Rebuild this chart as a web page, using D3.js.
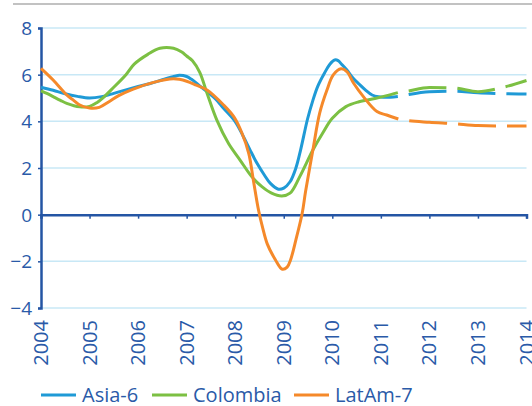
<!DOCTYPE html>
<html>
<head>
<meta charset="utf-8">
<script src="https://cdn.jsdelivr.net/npm/d3@7"></script>
<style>
  html, body { margin: 0; padding: 0; background: #fff; }
  svg { display: block; }
  text { font-family: "Open Sans", "Noto Sans", sans-serif; fill: #2a5aa8; }
</style>
</head>
<body>
<svg id="chart" width="532" height="406"></svg>
<script>
// ---- data ----
const years = [2004, 2005, 2006, 2007, 2008, 2009, 2010, 2011, 2012, 2013, 2014];
const yTicks = [-4, -2, 0, 2, 4, 6, 8];
const seriesNames = ["Asia-6", "Colombia", "LatAm-7"];

// actual (solid) values: [decimal year, value]
const asia6 = [
  [2004.0,5.46],[2004.25,5.33],[2004.5,5.18],[2004.75,5.07],[2005.0,5.0],[2005.25,5.06],
  [2005.5,5.2],[2005.75,5.35],[2006.0,5.49],[2006.25,5.62],[2006.5,5.78],[2006.75,5.93],
  [2006.85,5.97],[2007.0,5.92],[2007.1,5.8],[2007.25,5.55],[2007.42,5.27],[2007.6,4.95],
  [2007.76,4.56],[2008.0,3.99],[2008.17,3.34],[2008.3,2.8],[2008.45,2.2],[2008.6,1.7],
  [2008.72,1.35],[2008.89,1.09],[2009.0,1.14],[2009.13,1.41],[2009.25,2.0],[2009.35,2.8],
  [2009.49,4.1],[2009.6,4.9],[2009.7,5.5],[2009.84,6.07],[2009.95,6.45],[2010.05,6.63],
  [2010.12,6.6],[2010.19,6.45],[2010.3,6.2],[2010.43,5.85],[2010.55,5.6],[2010.68,5.35],
  [2010.82,5.13],[2010.95,5.05],[2011.07,5.03],[2011.2,5.03],[2011.35,5.06]
];
const colombia = [
  [2004.0,5.31],[2004.12,5.2],[2004.25,5.06],[2004.4,4.9],[2004.53,4.77],[2004.8,4.62],
  [2005.0,4.64],[2005.15,4.8],[2005.3,5.05],[2005.45,5.36],[2005.75,6.0],[2005.92,6.45],
  [2006.2,6.87],[2006.45,7.13],[2006.73,7.13],[2006.9,6.97],[2007.0,6.8],[2007.12,6.6],
  [2007.27,6.1],[2007.42,5.2],[2007.62,4.06],[2007.86,3.06],[2008.1,2.34],[2008.34,1.63],
  [2008.55,1.2],[2008.75,0.92],[2008.96,0.8],[2009.13,0.92],[2009.33,1.63],[2009.6,2.77],
  [2009.8,3.49],[2010.0,4.13],[2010.28,4.63],[2010.55,4.84],[2010.9,4.99],[2011.1,5.09],
  [2011.35,5.23]
];
const latam7 = [
  [2004.0,6.27],[2004.25,5.77],[2004.53,5.13],[2004.66,4.92],[2004.8,4.7],[2005.0,4.57],
  [2005.2,4.6],[2005.4,4.84],[2005.6,5.1],[2005.9,5.38],[2006.3,5.66],[2006.73,5.82],
  [2007.0,5.72],[2007.2,5.55],[2007.42,5.34],[2007.76,4.7],[2007.97,4.2],[2008.14,3.49],
  [2008.28,2.62],[2008.38,1.4],[2008.48,0.2],[2008.57,-0.6],[2008.66,-1.25],[2008.83,-1.94],
  [2008.97,-2.34],[2009.07,-2.25],[2009.14,-1.94],[2009.25,-1.08],[2009.38,0.06],[2009.45,1.0],
  [2009.6,2.77],[2009.74,4.35],[2009.89,5.34],[2010.02,5.99],[2010.18,6.25],[2010.3,6.13],
  [2010.44,5.63],[2010.64,5.06],[2010.92,4.42],[2011.12,4.27],[2011.36,4.1]
];

// forecast (dashed) values
const asia6Fc = [[2011.35,5.06],[2011.5,5.12],[2012.0,5.27],[2012.5,5.29],[2013.0,5.22],[2013.5,5.19],[2014.0,5.17]];
const colombiaFc = [[2011.35,5.23],[2011.5,5.27],[2012.0,5.45],[2012.5,5.43],[2013.0,5.27],[2013.5,5.45],[2014.0,5.75]];
const latam7Fc = [[2011.36,4.1],[2011.5,4.05],[2012.0,3.96],[2012.5,3.9],[2013.0,3.82],[2013.5,3.8],[2014.0,3.8]];

const colors = ["#1f9ad6", "#7cc043", "#f5892a"];

// ---- drawing ----
const svg = d3.select("#chart");
const axisColor = "#2455a4";
const gridColor = "#c8e8f6";

const x = d3.scaleLinear().domain([2004, 2014]).range([41, 526.5]);
const y = d3.scaleLinear().domain([-4, 8]).range([308, 28]);

// top gray rule
svg.append("line").attr("x1", 13).attr("x2", 532).attr("y1", 4).attr("y2", 4)
  .attr("stroke", "#c2c2c2").attr("stroke-width", 1.8);

// gridlines
svg.append("g").selectAll("line").data(yTicks.filter(d => d !== 0)).join("line")
  .attr("x1", x(2004)).attr("x2", x(2014))
  .attr("y1", d => y(d)).attr("y2", d => y(d))
  .attr("stroke", gridColor).attr("stroke-width", 1.5);

// y axis
const yAxis = d3.axisLeft(y).tickValues(yTicks).tickSize(3).tickPadding(6).tickFormat(d3.format("d"));
const gy = svg.append("g").attr("transform", `translate(${x(2004)},0)`).call(yAxis);
gy.select(".domain").attr("stroke", axisColor).attr("stroke-width", 2.5);
gy.selectAll(".tick line").attr("stroke", axisColor).attr("stroke-width", 1.5);
gy.selectAll(".tick text").attr("font-size", 19).attr("fill", "#2a5aa8")
  .attr("font-family", "'Open Sans', sans-serif").attr("dy", "0.35em");

// x axis on zero line
const xAxis = d3.axisBottom(x).tickValues(years).tickSize(4).tickFormat(d3.format("d"));
const gx = svg.append("g").attr("transform", `translate(0,${y(0)})`).call(xAxis);
gx.select(".domain").attr("stroke", axisColor).attr("stroke-width", 2.5);
gx.selectAll(".tick line").attr("stroke", axisColor).attr("stroke-width", 1.5);
gx.selectAll(".tick text").remove();

// year labels at bottom, rotated
svg.append("g").selectAll("text").data(years).join("text")
  .attr("transform", d => `translate(${x(d)},${320}) rotate(-90)`)
  .attr("text-anchor", "end").attr("dy", "0.35em")
  .attr("font-size", 20).text(d => d);

// lines
const lineSmooth = d3.line().x(d => x(d[0])).y(d => y(d[1])).curve(d3.curveCatmullRom.alpha(0.5));
const lineFc = d3.line().x(d => x(d[0])).y(d => y(d[1])).curve(d3.curveMonotoneX);

const actual = [asia6, colombia, latam7];
const fc = [asia6Fc, colombiaFc, latam7Fc];
actual.forEach((s, i) => {
  svg.append("path").attr("d", lineSmooth(s)).attr("fill", "none")
    .attr("stroke", colors[i]).attr("stroke-width", 3).attr("stroke-linejoin", "round");
});
fc.forEach((s, i) => {
  svg.append("path").attr("d", lineFc(s)).attr("fill", "none")
    .attr("stroke", colors[i]).attr("stroke-width", 3)
    .attr("stroke-dasharray", "38 11").attr("stroke-dashoffset", 38);
});

// legend
const legendX = [41, 152, 294];
const lg = svg.append("g");
seriesNames.forEach((n, i) => {
  lg.append("line").attr("x1", legendX[i]).attr("x2", legendX[i] + 35)
    .attr("y1", 395).attr("y2", 395).attr("stroke", colors[i]).attr("stroke-width", 3);
  lg.append("text").attr("x", legendX[i] + 41).attr("y", 395).attr("dy", "0.35em")
    .attr("font-size", 20).text(n);
});
</script>
</body>
</html>
